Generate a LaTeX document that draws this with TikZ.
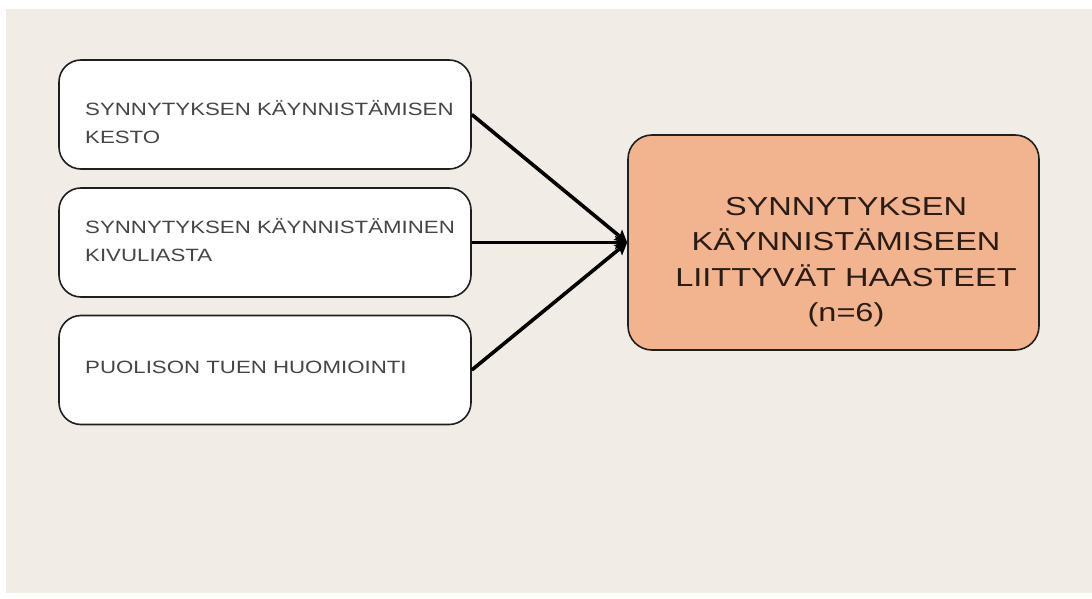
\documentclass[tikz,border=0pt]{standalone}
\usepackage{fontspec}
\setmainfont{Liberation Sans}
\newfontfamily\widesans[FakeStretch=1.25]{Liberation Sans}
\usetikzlibrary{arrows.meta}
\definecolor{paper}{HTML}{F1EDE6}
\definecolor{peach}{HTML}{F2B48E}
\definecolor{inkgrey}{HTML}{454545}
\definecolor{inkdark}{HTML}{2A1C14}
\begin{document}
\begin{tikzpicture}[x=1pt,y=-1pt,
  sidebox/.style={draw=black!88, line width=1.6pt, fill=white, rounded corners=22pt,
    minimum width=412pt, minimum height=109pt, inner sep=0pt},
  mainbox/.style={draw=black!88, line width=1.6pt, fill=peach, rounded corners=24pt,
    minimum width=411pt, minimum height=215pt, inner sep=0pt},
  sidetext/.style={anchor=base west, inner sep=0pt, text=inkgrey, align=left,
    font=\widesans\fontsize{17.8}{28}\selectfont},
  maintext/.style={anchor=base, inner sep=0pt, text=inkdark, align=center,
    font=\widesans\fontsize{26}{35}\selectfont},
  link/.style={line width=3.6pt, draw=black, -{Stealth[length=12pt,width=13pt,inset=2pt]}}
]
  % page and paper
  \useasboundingbox (0,0) rectangle (1092,599);
  \fill[white] (0,0) rectangle (1092,599);
  \fill[paper] (6,9) rectangle (1092,593);

  % factor boxes
  \node[sidebox] (b1) at (265,114.5) {};
  \node[sidebox] (b2) at (265,242.5) {};
  \node[sidebox] (b3) at (265,370) {};

  % result box
  \node[mainbox] (big) at (833.5,242.5) {};

  % labels (base of a two-line label is its last line)
  \node[sidetext] (t1) at (85,143) {SYNNYTYKSEN KÄYNNISTÄMISEN\\KESTO};
  \node[sidetext] (t2) at (85,261) {SYNNYTYKSEN KÄYNNISTÄMINEN\\KIVULIASTA};
  \node[sidetext] (t3) at (85,373) {PUOLISON TUEN HUOMIOINTI};

  \node[maintext] (tm1) at (846,215) {SYNNYTYKSEN};
  \node[maintext] (tm2) at (846,250) {KÄYNNISTÄMISEEN};
  \node[maintext] (tm3) at (846,286) {LIITTYVÄT HAASTEET};
  \node[maintext] (tm4) at (846,321) {(n=6)};

  % connectors
  \draw[link] (b1.east) -- (big.west);
  \draw[link] (b2.east) -- (big.west);
  \draw[link] (b3.east) -- (big.west);
\end{tikzpicture}
\end{document}
